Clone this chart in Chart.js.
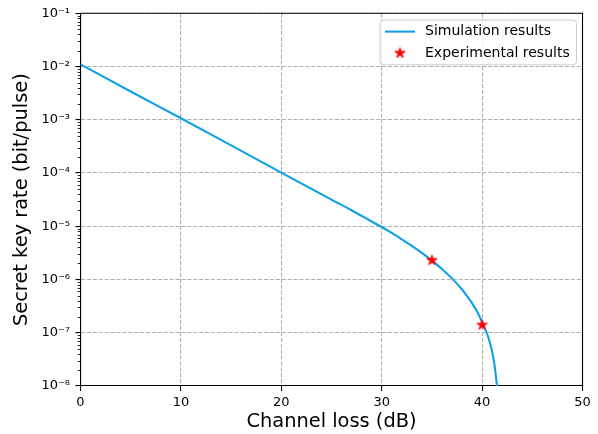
<!DOCTYPE html>
<html>
<head>
<meta charset="utf-8">
<script src="https://cdn.jsdelivr.net/npm/chart.js@4.4.0/dist/chart.umd.min.js"></script>
<style>
  html, body { margin: 0; padding: 0; background: #ffffff; }
  #wrap { width: 598px; height: 434px; }
</style>
</head>
<body>
<div id="wrap"><canvas id="c" width="598" height="434"></canvas></div>
<script>
// ---- data ----
const simLoss = [0, 5, 10, 15, 20, 25, 27, 29, 30, 31, 32, 33, 34, 35, 36, 37, 38, 38.5, 39, 39.5, 40, 40.5, 40.8, 41, 41.2, 41.4, 41.5, 41.55, 41.6];
const simRate = [1.1e-2, 3.4e-3, 1.07e-3, 3.3e-4, 1.02e-4, 3.16e-5, 2.0e-5, 1.23e-5, 9.7e-6, 7.5e-6, 5.7e-6, 4.27e-6, 3.16e-6, 2.26e-6, 1.58e-6, 1.05e-6, 6.5e-7, 4.9e-7, 3.6e-7, 2.5e-7, 1.58e-7, 9.5e-8, 6.3e-8, 4.4e-8, 2.75e-8, 1.38e-8, 7.9e-9, 3.2e-9, 1e-9];
const expLoss = [35, 40];
const expRate = [2.3e-6, 1.4e-7];
const xTickValues = [0, 10, 20, 30, 40, 50];
const yTickExponents = [-8, -7, -6, -5, -4, -3, -2, -1];
const seriesNames = ['Simulation results', 'Experimental results'];
const xTitle = 'Channel loss (dB)';
const yTitle = 'Secret key rate (bit/pulse)';

// ---- styling ----
const FONT = "'DejaVu Sans', sans-serif";
const LINE_COLOR = 'rgb(12,160,230)';
const STAR_COLOR = '#ff0000';
Chart.defaults.font.family = FONT;
Chart.defaults.color = '#000';

const SUP = {'-': '\u207B', '0': '\u2070', '1': '\u00B9', '2': '\u00B2', '3': '\u00B3', '4': '\u2074', '5': '\u2075', '6': '\u2076', '7': '\u2077', '8': '\u2078', '9': '\u2079'};
function sup(n) { return String(n).split('').map(c => SUP[c] || c).join(''); }

function makeStar(R) {
  const size = Math.ceil(R * 2 + 3);
  const cv = document.createElement('canvas');
  cv.width = size; cv.height = size;
  const g = cv.getContext('2d');
  const cx = size / 2, cy = size / 2, r = R * 0.381966;
  g.beginPath();
  for (let i = 0; i < 10; i++) {
    const rad = i % 2 === 0 ? R : r;
    const a = -Math.PI / 2 + i * Math.PI / 5;
    const px = cx + rad * Math.cos(a), py = cy + rad * Math.sin(a);
    if (i === 0) g.moveTo(px, py); else g.lineTo(px, py);
  }
  g.closePath();
  g.fillStyle = STAR_COLOR;
  g.fill();
  g.lineWidth = 0.8;
  g.strokeStyle = STAR_COLOR;
  g.stroke();
  return cv;
}
const starImg = makeStar(5.6);
const starLegend = makeStar(5.6);

const framePlugin = {
  id: 'frameAndLegend',
  afterDraw(chart) {
    const ctx = chart.ctx;
    const a = chart.chartArea;
    const ys = chart.scales.y;
    ctx.save();
    // minor ticks on log axis
    ctx.strokeStyle = '#000';
    ctx.lineWidth = 0.85;
    for (let e = -8; e < -1; e++) {
      for (let m = 2; m <= 9; m++) {
        const py = Math.round(ys.getPixelForValue(m * Math.pow(10, e))) + 0.5;
        ctx.beginPath();
        ctx.moveTo(a.left - 2.8, py);
        ctx.lineTo(a.left, py);
        ctx.stroke();
      }
    }
    // top and right spines
    ctx.lineWidth = 1.1;
    ctx.beginPath();
    ctx.moveTo(a.left, a.top);
    ctx.lineTo(a.right, a.top);
    ctx.lineTo(a.right, a.bottom);
    ctx.stroke();

    // legend box
    const bw = 196.5, bh = 44.7;
    const bx = a.right - 6 - bw, by = a.top + 6.8;
    const rr = 3.5;
    ctx.beginPath();
    ctx.moveTo(bx + rr, by);
    ctx.lineTo(bx + bw - rr, by);
    ctx.quadraticCurveTo(bx + bw, by, bx + bw, by + rr);
    ctx.lineTo(bx + bw, by + bh - rr);
    ctx.quadraticCurveTo(bx + bw, by + bh, bx + bw - rr, by + bh);
    ctx.lineTo(bx + rr, by + bh);
    ctx.quadraticCurveTo(bx, by + bh, bx, by + bh - rr);
    ctx.lineTo(bx, by + rr);
    ctx.quadraticCurveTo(bx, by, bx + rr, by);
    ctx.closePath();
    ctx.fillStyle = 'rgba(255,255,255,0.8)';
    ctx.fill();
    ctx.strokeStyle = '#cccccc';
    ctx.lineWidth = 1;
    ctx.stroke();

    const y1 = by + 11.5, y2 = by + 33;
    ctx.strokeStyle = LINE_COLOR;
    ctx.lineWidth = 2.1;
    ctx.beginPath();
    ctx.moveTo(bx + 5, y1);
    ctx.lineTo(bx + 35, y1);
    ctx.stroke();
    ctx.drawImage(starLegend, bx + 20 - starLegend.width / 2, y2 - starLegend.height / 2);

    ctx.fillStyle = '#000';
    ctx.font = '14px ' + FONT;
    ctx.textBaseline = 'middle';
    ctx.textAlign = 'left';
    ctx.fillText(seriesNames[0], bx + 45, y1);
    ctx.fillText(seriesNames[1], bx + 45, y2);
    ctx.restore();
  }
};

new Chart(document.getElementById('c'), {
  type: 'line',
  data: {
    datasets: [
      {
        label: seriesNames[0],
        data: simLoss.map((x, i) => ({x: x, y: simRate[i]})),
        borderColor: LINE_COLOR,
        backgroundColor: LINE_COLOR,
        borderWidth: 2.1,
        pointRadius: 0,
        fill: false,
        cubicInterpolationMode: 'monotone',
        clip: 0,
        order: 2
      },
      {
        label: seriesNames[1],
        data: expLoss.map((x, i) => ({x: x, y: expRate[i]})),
        showLine: false,
        pointStyle: starImg,
        pointRadius: 6,
        borderColor: STAR_COLOR,
        backgroundColor: STAR_COLOR,
        clip: false,
        order: 1
      }
    ]
  },
  options: {
    responsive: false,
    animation: false,
    devicePixelRatio: 1,
    layout: { padding: { left: 0, right: 15.5, top: 12.5, bottom: 0 } },
    plugins: { legend: { display: false }, tooltip: { enabled: false } },
    scales: {
      x: {
        type: 'linear',
        min: 0, max: 50,
        afterBuildTicks(scale) { scale.ticks = xTickValues.map(v => ({value: v})); },
        afterFit(scale) { scale.height = 48; },
        ticks: { font: { size: 13 }, color: '#000', padding: 3.5, maxRotation: 0 },
        grid: { color: '#b0b0b0', lineWidth: 1.1, tickColor: '#000', tickWidth: 1.1, tickLength: 5, drawTicks: true },
        border: { display: true, color: '#000', width: 1.1, dash: [4.1, 1.8] },
        title: { display: true, text: xTitle, font: { size: 19.4 }, color: '#000', padding: { top: 0, bottom: 0 } }
      },
      y: {
        type: 'logarithmic',
        min: 1e-8, max: 1e-1,
        afterBuildTicks(scale) { scale.ticks = yTickExponents.map(e => ({value: Math.pow(10, e), major: true})); },
        afterFit(scale) { scale.width = 80.5; },
        ticks: {
          font: { size: 13 }, color: '#000', padding: 5.5,
          callback(value) { return '10' + sup(Math.round(Math.log10(value))); }
        },
        grid: { color: '#b0b0b0', lineWidth: 1.1, tickColor: '#000', tickWidth: 1.1, tickLength: 5, drawTicks: true },
        border: { display: true, color: '#000', width: 1.1, dash: [4.1, 1.8] },
        title: { display: true, text: yTitle, font: { size: 19.4 }, color: '#000', padding: { top: 10, bottom: 0 } }
      }
    }
  },
  plugins: [framePlugin]
});
</script>
</body>
</html>
